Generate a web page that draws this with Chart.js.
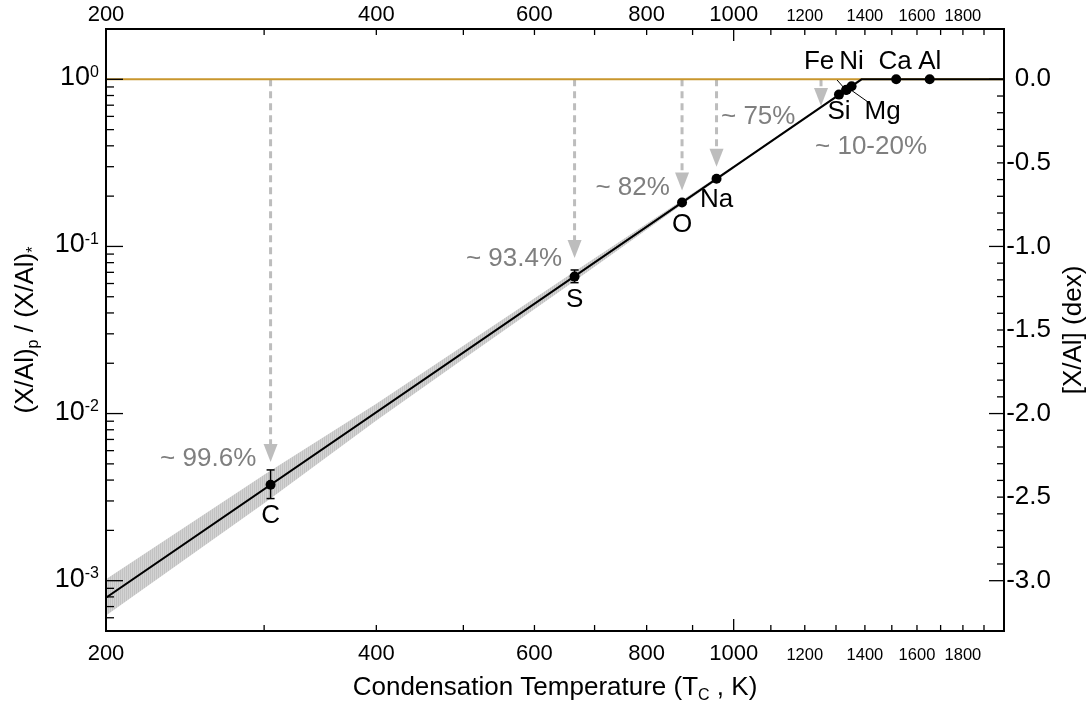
<!DOCTYPE html>
<html>
<head>
<meta charset="utf-8">
<script src="https://cdn.jsdelivr.net/npm/chart.js@4.4.1/dist/chart.umd.min.js"></script>
<style>
  html, body { margin: 0; padding: 0; background: #fff; }
  #wrap { width: 1091px; height: 704px; }
</style>
</head>
<body>
<div id="wrap"><canvas id="chart" width="1091" height="704"></canvas></div>
<script>
// Elements (condensation temperature in K, planet/star ratio relative to Al)
const elements = ['C', 'S', 'O', 'Na', 'Si', 'Fe', 'Mg', 'Ni', 'Ca', 'Al'];
const condTemp = [305, 665, 876, 957, 1310, 1334, 1336, 1353, 1517, 1653];
const ratio = [0.00375, 0.066, 0.183, 0.254, 0.81, 0.863, 0.866, 0.909, 1.0, 1.0];
const ratioErrHi = [0.0046, 0.0723, null, null, null, null, null, null, null, null];
const ratioErrLo = [0.0031, 0.0607, null, null, null, null, null, null, null, null];

// Fitted trend and its uncertainty band
const fitTemp = [200, 1388, 2000];
const fitRatio = [0.00079, 1.0, 1.0];
const bandTemp = [200, 300, 400, 500, 665, 876, 1000];
const bandHi = [0.00102, 0.0043, 0.01146, 0.02547, 0.0708, 0.1888, 0.304];
const bandLo = [0.00062, 0.00291, 0.0091, 0.02118, 0.0622, 0.1782, 0.2931];

// Solar (stellar) reference level
const solarTemp = [200, 2000];
const solarRatio = [1.0, 1.0];

// Depletion arrows and their labels
const arrowTemp = [305, 665, 876, 957, 1251];
const arrowTip = [0.00513, 0.0853, 0.216, 0.30, 0.693];
const lossLabels = ['~ 99.6%', '~ 93.4%', '~ 82%', '~ 75%', '~ 10-20%'];
const lossLabelAt = [[294, 0.00534, 'right'], [644, 0.0842, 'right'], [849, 0.224, 'right'], [968, 0.596, 'left'], [1232, 0.394, 'left']];

// Axis ticks
const xTickLabels = [200, 400, 600, 800, 1000, 1200, 1400, 1600, 1800];
const xMinorTicks = [300, 400, 500, 600, 700, 800, 900, 1000, 1100, 1200, 1300, 1400, 1500, 1600, 1700, 1800, 1900];
const yDecades = [-3, -2, -1, 0];
const dexLabels = ['0.0', '-0.5', '-1.0', '-1.5', '-2.0', '-2.5', '-3.0'];
const dexValues = [0, -0.5, -1.0, -1.5, -2.0, -2.5, -3.0];

// label offsets (px) from each element's dot
const elemLabelOffset = [[0, 31], [0, 23], [0, 22], [0, 21], [0, 17], [-27, -28], [36, 22], [0, -24], [-1, -17], [0, -17]];

const FONT = '"Liberation Sans", Arial, Helvetica, sans-serif';
const GOLD = '#C8962D';
const ARROW_GRAY = '#bdbdbd';
const TEXT_GRAY = '#7f7f7f';

function toXY(xs, ys) {
    return xs.map((x, i) => ({ x: x, y: ys[i] }));
}

function richText(ctx, parts, x, y, align) {
    let total = 0;
    parts.forEach(p => {
        ctx.font = p[1] + 'px ' + FONT;
        total += ctx.measureText(p[0]).width;
    });
    let cx = align === 'center' ? x - total / 2 : (align === 'right' ? x - total : x);
    ctx.textAlign = 'left';
    ctx.textBaseline = 'alphabetic';
    parts.forEach(p => {
        ctx.font = p[1] + 'px ' + FONT;
        ctx.fillText(p[0], cx, y + p[2]);
        cx += ctx.measureText(p[0]).width;
    });
}

function seg(ctx, x0, y0, x1, y1) {
    ctx.beginPath();
    ctx.moveTo(x0, y0);
    ctx.lineTo(x1, y1);
    ctx.stroke();
}

// hatch-like fill for the band
const hatch = document.createElement('canvas');
hatch.width = 2;
hatch.height = 2;
const hctx = hatch.getContext('2d');
hctx.fillStyle = '#c2c2c2';
hctx.fillRect(0, 0, 1, 2);
hctx.fillStyle = '#d3d3d3';
hctx.fillRect(1, 0, 1, 2);
const bandPattern = document.getElementById('chart').getContext('2d').createPattern(hatch, 'repeat');

const arrowsPlugin = {
    id: 'arrows',
    beforeDatasetsDraw(chart) {
        const ctx = chart.ctx;
        const xs = chart.scales.x, ys = chart.scales.y;
        ctx.save();
        arrowTemp.forEach((t, i) => {
            const px = xs.getPixelForValue(t);
            const y0 = ys.getPixelForValue(1.0);
            const y1 = ys.getPixelForValue(arrowTip[i]);
            ctx.strokeStyle = ARROW_GRAY;
            ctx.fillStyle = ARROW_GRAY;
            ctx.lineWidth = 3;
            ctx.setLineDash([7, 5]);
            seg(ctx, px, y0, px, y1 - 17);
            ctx.setLineDash([]);
            ctx.beginPath();
            ctx.moveTo(px - 7, y1 - 18);
            ctx.lineTo(px + 7, y1 - 18);
            ctx.lineTo(px, y1);
            ctx.closePath();
            ctx.fill();
        });
        ctx.restore();
    }
};

const axesPlugin = {
    id: 'idlAxes',
    afterDatasetsDraw(chart) {
        const ctx = chart.ctx;
        const xs = chart.scales.x, ys = chart.scales.y;
        const a = chart.chartArea;
        ctx.save();

        // error bars
        ctx.strokeStyle = '#000';
        ctx.lineWidth = 1.5;
        condTemp.forEach((t, i) => {
            if (ratioErrHi[i] === null) return;
            const px = xs.getPixelForValue(t);
            const yh = ys.getPixelForValue(ratioErrHi[i]);
            const yl = ys.getPixelForValue(ratioErrLo[i]);
            seg(ctx, px, yh, px, yl);
            seg(ctx, px - 4, yh, px + 4, yh);
            seg(ctx, px - 4, yl, px + 4, yl);
        });

        // leader lines for Fe and Mg
        ctx.lineWidth = 1;
        const feX = xs.getPixelForValue(condTemp[5]), feY = ys.getPixelForValue(ratio[5]);
        seg(ctx, feX - 9, feY - 10, feX - 2, feY - 2);
        const mgX = xs.getPixelForValue(condTemp[6]), mgY = ys.getPixelForValue(ratio[6]);
        seg(ctx, mgX + 4, mgY, mgX + 21, mgY + 12);

        // element labels
        ctx.fillStyle = '#000';
        ctx.font = '26px ' + FONT;
        ctx.textAlign = 'center';
        ctx.textBaseline = 'middle';
        elements.forEach((el, i) => {
            const px = xs.getPixelForValue(condTemp[i]) + elemLabelOffset[i][0];
            const py = ys.getPixelForValue(ratio[i]) + elemLabelOffset[i][1];
            ctx.fillText(el, px, py);
        });

        // depletion labels
        ctx.fillStyle = TEXT_GRAY;
        lossLabels.forEach((txt, i) => {
            const at = lossLabelAt[i];
            ctx.textAlign = at[2];
            ctx.fillText(txt, xs.getPixelForValue(at[0]), ys.getPixelForValue(at[1]));
        });

        // frame
        ctx.strokeStyle = '#000';
        ctx.lineWidth = 2;
        ctx.strokeRect(a.left, a.top, a.right - a.left, a.bottom - a.top);

        // x ticks (bottom and top, drawn inward)
        ctx.lineWidth = 1.3;
        xMinorTicks.forEach(t => {
            const px = xs.getPixelForValue(t);
            const len = t === 1000 ? 12 : 6;
            seg(ctx, px, a.bottom, px, a.bottom - len);
            seg(ctx, px, a.top, px, a.top + len);
        });

        // left log ticks
        for (let e = -4; e <= 0; e++) {
            for (let k = 1; k <= 9; k++) {
                const v = k * Math.pow(10, e);
                if (v <= ys.min * 1.0001 || v >= ys.max * 0.9999) continue;
                const py = ys.getPixelForValue(v);
                seg(ctx, a.left, py, a.left + (k === 1 ? 17 : 8), py);
            }
        }

        // right dex ticks
        for (let i = 0; i <= 30; i++) {
            const py = ys.getPixelForValue(Math.pow(10, -i / 10));
            seg(ctx, a.right, py, a.right - (i % 10 === 0 ? 15 : 7), py);
        }

        // x tick labels
        ctx.fillStyle = '#000';
        ctx.textAlign = 'center';
        ctx.textBaseline = 'middle';
        xTickLabels.forEach(t => {
            const px = xs.getPixelForValue(t);
            const small = t > 1000;
            ctx.font = (small ? 16.5 : 22) + 'px ' + FONT;
            ctx.fillText(String(t), px, a.bottom + (small ? 24 : 23));
            ctx.fillText(String(t), px, a.top - (small ? 13 : 14));
        });

        // left labels 10^n
        yDecades.forEach(e => {
            const py = ys.getPixelForValue(Math.pow(10, e));
            ctx.textAlign = 'right';
            ctx.font = '16px ' + FONT;
            const sup = String(e);
            const supW = ctx.measureText(sup).width;
            ctx.fillText(sup, a.left - 7, py - 7);
            ctx.font = '27px ' + FONT;
            ctx.fillText('10', a.left - 7 - supW, py - 1.5);
        });

        // right dex labels
        ctx.font = '26px ' + FONT;
        ctx.textAlign = 'right';
        dexLabels.forEach((lab, i) => {
            ctx.fillText(lab, a.right + 47, ys.getPixelForValue(Math.pow(10, dexValues[i])));
        });

        // axis titles
        const midX = (a.left + a.right) / 2, midY = (a.top + a.bottom) / 2;
        richText(ctx, [['Condensation Temperature (T', 26, 0], ['C', 16, 5], [' , K)', 26, 0]], midX, 695, 'center');

        ctx.save();
        ctx.translate(33, midY);
        ctx.rotate(-Math.PI / 2);
        richText(ctx, [['(X/Al)', 26, 0], ['p', 16, 5], [' / (X/Al)', 26, 0], ['*', 16, 5]], 0, 0, 'center');
        ctx.restore();

        ctx.save();
        ctx.translate(1081, midY);
        ctx.rotate(-Math.PI / 2);
        richText(ctx, [['[X/Al] (dex)', 26, 0]], 0, 0, 'center');
        ctx.restore();

        ctx.restore();
    }
};

const ctx = document.getElementById('chart').getContext('2d');
new Chart(ctx, {
    type: 'line',
    data: {
        datasets: [
            {
                label: 'band upper',
                data: toXY(bandTemp, bandHi),
                borderWidth: 0,
                pointRadius: 0,
                backgroundColor: bandPattern,
                fill: '+1',
                order: 4
            },
            {
                label: 'band lower',
                data: toXY(bandTemp, bandLo),
                borderWidth: 0,
                pointRadius: 0,
                fill: false,
                order: 5
            },
            {
                label: 'stellar',
                data: toXY(solarTemp, solarRatio),
                borderColor: GOLD,
                borderWidth: 2,
                pointRadius: 0,
                fill: false,
                order: 2
            },
            {
                label: 'fit',
                data: toXY(fitTemp, fitRatio),
                borderColor: '#000',
                borderWidth: 2,
                pointRadius: 0,
                fill: false,
                order: 1
            },
            {
                label: 'elements',
                data: toXY(condTemp, ratio),
                showLine: false,
                pointRadius: 5,
                pointBackgroundColor: '#000',
                pointBorderWidth: 0,
                order: 0
            }
        ]
    },
    options: {
        responsive: false,
        animation: false,
        devicePixelRatio: 1,
        layout: { padding: { left: 106, right: 87, top: 29, bottom: 73 } },
        plugins: {
            legend: { display: false },
            tooltip: { enabled: false }
        },
        scales: {
            x: { type: 'logarithmic', min: 200, max: 2000, display: false },
            y: { type: 'logarithmic', min: 0.0005, max: 2, display: false }
        }
    },
    plugins: [arrowsPlugin, axesPlugin]
});
</script>
</body>
</html>
